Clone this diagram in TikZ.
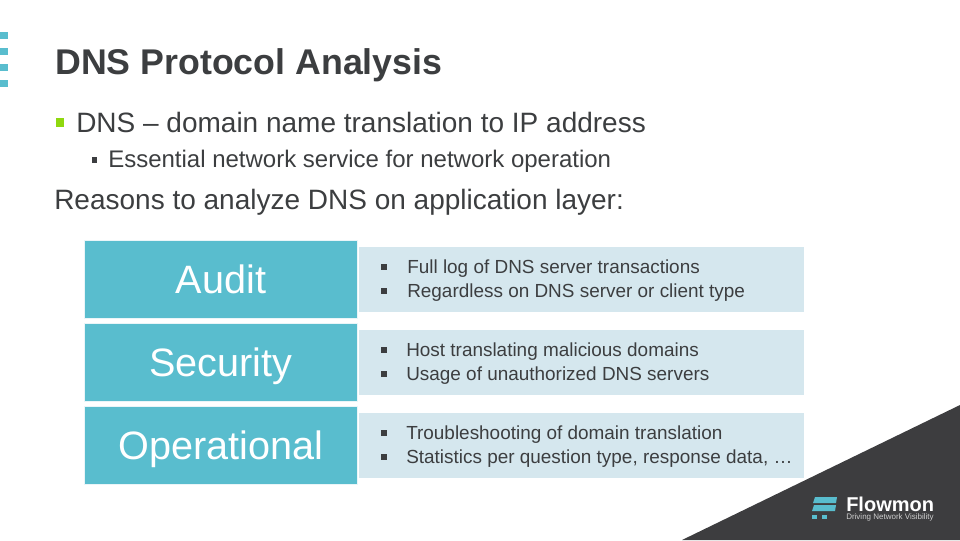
\documentclass[tikz,border=0pt]{standalone}
\usepackage{fontspec}
\setmainfont{Liberation Sans}
\definecolor{teal}{HTML}{59BDCE}
\definecolor{pale}{HTML}{D5E7EE}
\definecolor{fringe}{HTML}{EAF5F8}
\definecolor{ink}{HTML}{3C3E40}
\definecolor{dark}{HTML}{3D3D3F}
\definecolor{lime}{HTML}{8FD80F}
\newcommand{\fs}[1]{\fontsize{#1}{#1}\selectfont}
\tikzset{
 x=0.75pt,y=-0.75pt,
 tx/.style={inner sep=0pt,anchor=base west,text=ink},
 head/.style={draw=fringe,line width=0.75pt,fill=teal,minimum width=204.75pt,minimum height=58.5pt,inner sep=0pt,text=white,font=\fs{29.7},text height=24pt,text depth=3.5pt},
 body/.style={fill=pale,minimum width=333.75pt,minimum height=48.75pt,inner sep=0pt},
 item/.style={tx,font=\fs{14.2}},
 dot/.style={fill=teal},
}
\begin{document}
\begin{tikzpicture}
\useasboundingbox (0,0) rectangle (960,540);
\fill[dot] (0,32) rectangle (8,39);
\fill[dot] (0,48) rectangle (8,55);
\fill[dot] (0,64) rectangle (8,71);
\fill[dot] (0,80) rectangle (8,87);
\fill[dark] (682,540) -- (960,405) -- (960,540) -- cycle;
\node[tx,font=\bfseries\fs{26.8}] (title) at (55,74.5) {DNS Protocol Analysis};
\fill[lime] (56,118) rectangle (64,127);
\node[tx,font=\fs{21}] (l1) at (76,132) {DNS – domain name translation to IP address};
\fill[ink] (92,157) rectangle (97,163);
\node[tx,font=\fs{18}] (l2) at (108,167) {Essential network service for network operation};
\node[tx,font=\fs{21}] (l3) at (54,209) {Reasons to analyze DNS on application layer:};
\node[head] (a) at (221,279.5) {Audit};
\node[head] (s) at (221,362.5) {Security};
\node[head] (o) at (221,445.5) {Operational};
\node[body] (ba) at (581.5,279.5) {};
\node[body] (bs) at (581.5,362.5) {};
\node[body] (bo) at (581.5,445.5) {};
\fill[ink] (381,264) rectangle (387,270);
\node[item] at (407,273.7) {Full log of DNS server transactions};
\fill[ink] (381,288) rectangle (387,294);
\node[item] at (407,297.7) {Regardless on DNS server or client type};
\fill[ink] (381,347) rectangle (387,353);
\node[item] at (406,356.7) {Host translating malicious domains};
\fill[ink] (381,371) rectangle (387,377);
\node[item] at (406,380.7) {Usage of unauthorized DNS servers};
\fill[ink] (381,430) rectangle (387,436);
\node[item] at (406,439.7) {Troubleshooting of domain translation};
\fill[ink] (381,454) rectangle (387,460);
\node[item] at (406,463.7) {Statistics per question type, response data, …};
\fill[teal] (815,497) -- (837,497) -- (836,503) -- (813,503) -- cycle;
\fill[teal] (814,505) -- (836,505) -- (835,511) -- (812,511) -- cycle;
\fill[teal] (812,515) rectangle (817,518.5);
\fill[teal] (822,515) rectangle (827,518.5);
\node[tx,text=white,font=\bfseries\fs{15}] (fl) at (846,511) {Flowmon};
\node[tx,text=white!75!dark,font=\fs{6}] (fs) at (846,519.5) {Driving Network Visibility};
\end{tikzpicture}
\end{document}
